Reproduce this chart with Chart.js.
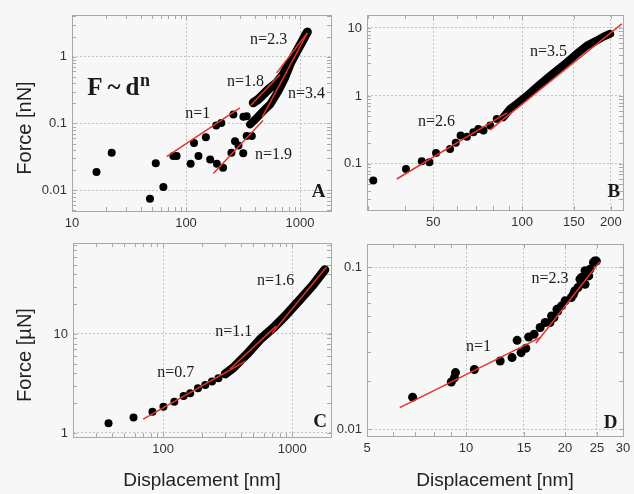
<!DOCTYPE html>
<html>
<head>
<meta charset="utf-8">
<script src="https://cdn.jsdelivr.net/npm/chart.js@4.4.1/dist/chart.umd.min.js"></script>
<style>
  body { margin: 0; background: #f7f7f7; }
  #wrap { position: relative; width: 634px; height: 494px; overflow: hidden; }
  canvas { position: absolute; }
</style>
</head>
<body>
<div id="wrap">
  <canvas id="chartA" width="345" height="240" style="left:0;top:0"></canvas>
  <canvas id="chartB" width="334" height="240" style="left:300px;top:0"></canvas>
  <canvas id="chartC" width="345" height="264" style="left:0;top:230px"></canvas>
  <canvas id="chartD" width="334" height="264" style="left:300px;top:230px"></canvas>
</div>
<script>
// Panel A (force in nN)
const aSparseX = [16.4, 22.3, 48.3, 54.3, 63.3, 77.4, 82.7, 109.8, 117.6, 128.6, 149.4, 162.9, 184, 186.5, 203.9, 211.3, 250.2, 260.3, 269.2, 288.3, 317.6, 318.8, 340.5, 340.5, 377.7];
const aSparseY = [0.0188, 0.0365, 0.0075, 0.0253, 0.0112, 0.0325, 0.0325, 0.025, 0.051, 0.0325, 0.062, 0.029, 0.093, 0.025, 0.102, 0.0218, 0.0365, 0.136, 0.0544, 0.047, 0.0357, 0.126, 0.128, 0.065, 0.065];
const aLoadX = [389, 431, 476, 535, 624, 706, 764, 840, 935, 1028, 1109, 1160];
const aLoadY = [0.204, 0.23, 0.271, 0.33, 0.405, 0.53, 0.678, 0.86, 1.2, 1.6, 2.05, 2.34];
const aUnloadX = [365, 405, 445, 496, 546, 646, 739, 846, 968, 1107];
const aUnloadY = [0.097, 0.115, 0.136, 0.165, 0.192, 0.304, 0.48, 0.85, 1.35, 2.01];
const aFit1X = [67.7, 297], aFit1Y = [0.0318, 0.171];
const aFit18X = [370, 668], aFit18Y = [0.1875, 0.539];
const aFit23X = [624, 1160], aFit23Y = [0.571, 2.26];
const aFit19X = [173.6, 474], aFit19Y = [0.0179, 0.111];
const aFit34X = [465, 1160], aFit34Y = [0.123, 2.26];

// Panel B (force in nN)
const bSparseX = [31.3, 40.4, 45.7, 48.5, 51.1, 57, 59.6, 61.9, 65, 68.4, 71.1, 74, 78, 82.1];
const bSparseY = [0.0568, 0.0844, 0.109, 0.106, 0.145, 0.166, 0.204, 0.261, 0.25, 0.292, 0.327, 0.31, 0.366, 0.459];
const bTraceX = [86.4, 91, 96, 104, 112, 121, 131, 142, 153, 166, 179, 189, 199];
const bTraceY = [0.486, 0.644, 0.763, 1.01, 1.34, 1.78, 2.36, 3.13, 4.15, 5.5, 6.5, 7.45, 8.2];
const bFit26X = [37.6, 88.8], bFit26Y = [0.060, 0.562];
const bFit35X = [77.9, 218], bFit35Y = [0.316, 11.5];

// Panel C (force in uN)
const cSparseX = [37.7, 58.9, 82.6, 100.5, 122, 144, 162, 186, 212, 239, 268, 303];
const cSparseY = [1.25, 1.43, 1.64, 1.84, 2.07, 2.36, 2.52, 2.83, 3.05, 3.30, 3.57, 3.95];
const cTraceX = [303, 349, 442, 562, 713, 904, 1148, 1456, 1790];
const cTraceY = [3.95, 4.54, 6.18, 8.75, 11.5, 15.7, 22.2, 31.5, 44.6];
const cFit07X = [70, 440], cFit07Y = [1.38, 5.34];
const cFit11X = [330, 751], cFit11Y = [4.43, 12.0];
const cFit16X = [700, 1845], cFit16Y = [10.2, 47.5];

// Panel D (force in nN)
const dPointsX = [6.88, 9.02, 9.22, 9.29, 10.6, 12.7, 13.8, 14.3, 14.7, 15.2, 15.5, 16.1, 16.8, 17.4, 18.0, 18.2, 18.5, 18.9, 19.0, 19.5, 20.0, 20.9, 21.2, 21.4, 21.9, 22.2, 22.4, 23.0, 23.0, 23.6, 23.8, 24.4, 24.6, 24.9];
const dPointsY = [0.0158, 0.0196, 0.0208, 0.0224, 0.0234, 0.0264, 0.0277, 0.0354, 0.0297, 0.0316, 0.0371, 0.0386, 0.0425, 0.0456, 0.0456, 0.050, 0.0489, 0.0551, 0.0537, 0.0577, 0.062, 0.065, 0.068, 0.0714, 0.075, 0.0843, 0.0863, 0.0785, 0.095, 0.0884, 0.097, 0.107, 0.109, 0.109];
const dFit1X = [6.29, 16.8], dFit1Y = [0.0136, 0.0368];
const dFit23X = [16.3, 25.5], dFit23Y = [0.034, 0.108];

const sans = "'Liberation Sans', Arial, sans-serif";
const serif = "'Liberation Serif', 'Times New Roman', serif";
const red = '#e2362c';

function pts(xs, ys) {
    return xs.map((x, i) => ({ x: x, y: ys[i] }));
}
function near(a, b) {
    return b !== undefined && Math.abs(a - b) / a < 1e-6;
}
// tick positions 1..9 x 10^k inside [lo, hi]
function logTicks(lo, hi) {
    const out = [];
    for (let k = -3; k <= 4; k++) {
        for (let m = 1; m <= 9; m++) {
            const v = m * Math.pow(10, k);
            if (v >= lo * 0.999 && v <= hi * 1.001) out.push(v);
        }
    }
    return out;
}

function sparse(xs, ys, r) {
    return { data: pts(xs, ys), showLine: false, pointRadius: r, pointBorderWidth: 0,
             backgroundColor: '#000', borderColor: '#000', order: 1 };
}
// dense runs of dots: drawn as one thick round-capped stroke
function trace(xs, ys, w) {
    return { data: pts(xs, ys), showLine: true, borderColor: '#000', borderWidth: w, pointRadius: 0,
             borderCapStyle: 'round', borderJoinStyle: 'round', order: 1 };
}
function fit(xs, ys) {
    return { data: pts(xs, ys), showLine: true, borderColor: red, borderWidth: 1.5, pointRadius: 0, order: 0 };
}

const frameAndText = {
    id: 'frameAndText',
    beforeDatasetsDraw(chart, args, opts) {
        const { ctx, chartArea: a, scales } = chart;
        ctx.save();
        ctx.strokeStyle = '#a9a9a9';
        ctx.lineWidth = 1;
        ctx.beginPath();
        scales.x.ticks.forEach(t => {
            const px = Math.round(scales.x.getPixelForValue(t.value)) + 0.5;
            ctx.moveTo(px, a.bottom); ctx.lineTo(px, a.bottom - 4);
            ctx.moveTo(px, a.top); ctx.lineTo(px, a.top + 4);
        });
        scales.y.ticks.forEach(t => {
            const py = Math.round(scales.y.getPixelForValue(t.value)) + 0.5;
            ctx.moveTo(a.left, py); ctx.lineTo(a.left + 4, py);
            ctx.moveTo(a.right, py); ctx.lineTo(a.right - 4, py);
        });
        ctx.stroke();
        ctx.strokeRect(Math.round(a.left) + 0.5, Math.round(a.top) + 0.5, Math.round(a.right - a.left), Math.round(a.bottom - a.top));
        ctx.restore();
    },
    afterDatasetsDraw(chart, args, opts) {
        const { ctx, scales } = chart;
        ctx.save();
        ctx.fillStyle = '#1a1a1a';
        ctx.textAlign = 'left';
        (opts.labels || []).forEach(l => {
            ctx.font = l.font;
            ctx.textBaseline = l.baseline || 'middle';
            ctx.fillText(l.text, scales.x.getPixelForValue(l.x), scales.y.getPixelForValue(l.y));
        });
        if (opts.yTitle) {
            ctx.font = '20px ' + sans;
            ctx.fillStyle = '#222';
            ctx.textAlign = 'center';
            ctx.textBaseline = 'middle';
            ctx.translate(opts.yTitle.x, opts.yTitle.y);
            ctx.rotate(-Math.PI / 2);
            ctx.fillText(opts.yTitle.text, 0, 0);
        }
        ctx.restore();
    }
};

function logAxis(isX, p) {
    const ax = isX ? p.x : p.y;
    const axis = {
        type: 'logarithmic',
        position: isX ? 'bottom' : 'left',
        min: ax.min,
        max: ax.max,
        afterBuildTicks: s => { s.ticks = ax.ticks.map(v => ({ value: v })); },
        afterFit: s => { if (isX) s.height = p.xAxisHeight; else s.width = p.yAxisWidth; },
        ticks: {
            autoSkip: false, maxRotation: 0, padding: 5, color: '#333',
            font: { family: sans, size: 13 },
            callback: v => { const m = ax.labels.find(l => near(l, v)); return m === undefined ? '' : String(m); }
        },
        grid: {
            drawTicks: false, lineWidth: 1,
            color: c => (c.tick && ax.grid.some(g => near(g, c.tick.value))) ? '#c2c2c2' : 'rgba(0,0,0,0)'
        },
        border: { display: false, dash: [2, 2] }
    };
    if (isX && p.xTitle) {
        axis.title = { display: true, text: p.xTitle, color: '#222', font: { family: sans, size: 19 }, padding: { top: 4, bottom: 2 } };
    }
    return axis;
}

function makePanel(id, p) {
    return new Chart(document.getElementById(id), {
        type: 'scatter',
        data: { datasets: p.datasets },
        options: {
            responsive: false,
            animation: false,
            layout: { padding: { top: p.padTop, right: p.padRight, left: 0, bottom: 0 } },
            scales: { x: logAxis(true, p), y: logAxis(false, p) },
            plugins: {
                legend: { display: false },
                tooltip: { enabled: false },
                frameAndText: { labels: p.labels, yTitle: p.yTitle }
            }
        },
        plugins: [frameAndText]
    });
}

const nFont = '16px ' + serif;
const letterFont = 'bold 19px ' + serif;

// Gráfico A
makePanel('chartA', {
    x: { min: 10, max: 1870, ticks: logTicks(10, 1870), labels: [10, 100, 1000], grid: [100, 1000] },
    y: { min: 0.0049, max: 4.2, ticks: logTicks(0.0049, 4.2), labels: [0.01, 0.1, 1], grid: [0.01, 0.1, 1] },
    yAxisWidth: 72, xAxisHeight: 29, padTop: 15, padRight: 14,
    yTitle: { text: 'Force [nN]', x: 25, y: 128 },
    datasets: [
        fit(aFit1X, aFit1Y), fit(aFit18X, aFit18Y), fit(aFit23X, aFit23Y), fit(aFit19X, aFit19Y), fit(aFit34X, aFit34Y),
        sparse(aSparseX, aSparseY, 4), trace(aLoadX, aLoadY, 9), trace(aUnloadX, aUnloadY, 8)
    ],
    labels: [
        { text: 'n=2.3', x: 365, y: 1.79, font: nFont },
        { text: 'n=1.8', x: 229, y: 0.42, font: nFont },
        { text: 'n=3.4', x: 785, y: 0.28, font: nFont },
        { text: 'n=1', x: 98.3, y: 0.141, font: nFont },
        { text: 'n=1.9', x: 403, y: 0.0345, font: nFont },
        { text: 'A', x: 1266, y: 0.0093, font: letterFont },
        { text: 'F\u2009~\u2009d', x: 13.6, y: 0.271, font: 'bold 25px ' + serif, baseline: 'alphabetic' },
        { text: 'n', x: 39.5, y: 0.36, font: 'bold 18px ' + serif, baseline: 'alphabetic' }
    ]
});

// Gráfico B
makePanel('chartB', {
    x: { min: 29.8, max: 220, ticks: logTicks(29.8, 220).concat([150]), labels: [50, 100, 150, 200], grid: [50, 100, 150, 200] },
    y: { min: 0.021, max: 15.5, ticks: logTicks(0.021, 15.5), labels: [0.1, 1, 10], grid: [0.1, 1, 10] },
    yAxisWidth: 67, xAxisHeight: 30, padTop: 15, padRight: 11,
    datasets: [
        fit(bFit26X, bFit26Y), fit(bFit35X, bFit35Y),
        sparse(bSparseX, bSparseY, 4), trace(bTraceX, bTraceY, 8)
    ],
    labels: [
        { text: 'n=3.5', x: 106.4, y: 4.44, font: nFont },
        { text: 'n=2.6', x: 44.4, y: 0.415, font: nFont },
        { text: 'B', x: 195, y: 0.0388, font: letterFont }
    ]
});

// Gráfico C
makePanel('chartC', {
    x: { min: 20, max: 2000, ticks: logTicks(20, 2000), labels: [100, 1000], grid: [100, 1000] },
    y: { min: 0.91, max: 83, ticks: logTicks(0.91, 83), labels: [1, 10], grid: [1, 10] },
    yAxisWidth: 73, xAxisHeight: 57, padTop: 13, padRight: 14,
    xTitle: 'Displacement [nm]',
    yTitle: { text: 'Force [\u00b5N]', x: 25, y: 125 },
    datasets: [
        fit(cFit07X, cFit07Y), fit(cFit11X, cFit11Y), fit(cFit16X, cFit16Y),
        sparse(cSparseX, cSparseY, 4), trace(cTraceX, cTraceY, 9)
    ],
    labels: [
        { text: 'n=1.6', x: 535, y: 34.3, font: nFont },
        { text: 'n=1.1', x: 253, y: 10.5, font: nFont },
        { text: 'n=0.7', x: 89.8, y: 4.04, font: nFont },
        { text: 'C', x: 1456, y: 1.29, font: letterFont }
    ]
});

// Gráfico D
makePanel('chartD', {
    x: { min: 5, max: 30, ticks: logTicks(5, 30).concat([15, 25]), labels: [5, 10, 15, 20, 25, 30], grid: [10, 15, 20, 25] },
    y: { min: 0.0091, max: 0.139, ticks: logTicks(0.0091, 0.139), labels: [0.01, 0.1], grid: [0.01, 0.1] },
    yAxisWidth: 67, xAxisHeight: 58, padTop: 14, padRight: 11,
    xTitle: 'Displacement [nm]',
    datasets: [
        fit(dFit1X, dFit1Y), fit(dFit23X, dFit23Y),
        sparse(dPointsX, dPointsY, 4.5)
    ],
    labels: [
        { text: 'n=2.3', x: 15.8, y: 0.0843, font: nFont },
        { text: 'n=1', x: 10, y: 0.0325, font: nFont },
        { text: 'D', x: 26.2, y: 0.0109, font: letterFont }
    ]
});
</script>
</body>
</html>
